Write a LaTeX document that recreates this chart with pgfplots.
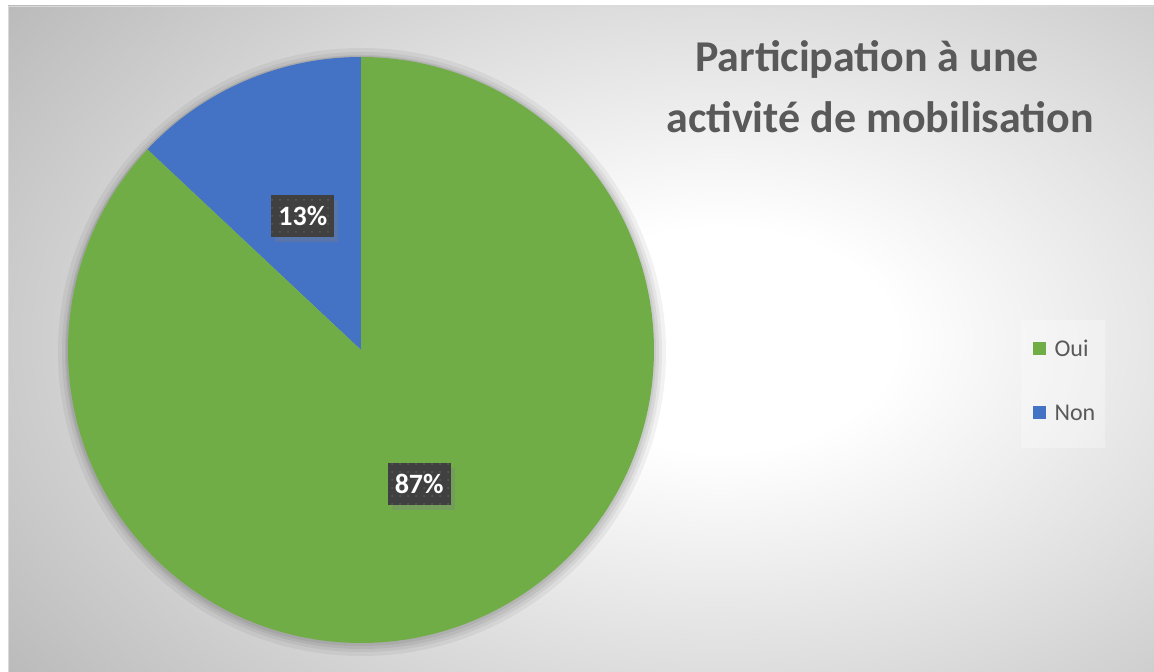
\documentclass[border=0pt]{standalone}
\usepackage{pgfplots}
\pgfplotsset{compat=1.18}
\usepackage{fontspec}
\setmainfont{Carlito}
\usetikzlibrary{shadows,patterns.meta}
\definecolor{pgreen}{HTML}{70AD47}
\definecolor{pblue}{HTML}{4472C4}
\definecolor{tgray}{HTML}{595959}
\definecolor{lbl}{HTML}{404040}
\definecolor{dotc}{HTML}{5A5A5A}
\definecolor{bggray}{HTML}{BBBBBB}
\pgfdeclareradialshading{bgshade}{\pgfpoint{0bp}{0bp}}{color(0bp)=(white); color(5bp)=(white); color(25bp)=(bggray); color(50bp)=(bggray)}
% data (percent)
\def\vOui{87}
\def\vNon{13}
\begin{document}
\begin{tikzpicture}
\pgfmathsetmacro\aNon{90+3.6*\vNon}
\pgfmathsetmacro\aOuiEnd{\aNon+3.6*\vOui}
\pgfmathsetmacro\mNon{90+1.8*\vNon}
\pgfmathsetmacro\mOui{\aNon+1.8*\vOui}
\pgfmathsetmacro\xNon{361+146.5*cos(\mNon)}
\pgfmathsetmacro\yNon{322+146.5*sin(\mNon)}
\pgfmathsetmacro\xOui{361+146.5*cos(\mOui)}
\pgfmathsetmacro\yOui{322+146.5*sin(\mOui)}
\begin{axis}[scale only axis, width=1154pt, height=672pt,
  xmin=0, xmax=1154, ymin=0, ymax=672, hide axis, clip=false]
% background
\fill[white] (axis cs:0,0) rectangle (axis cs:1154,672);
\begin{scope}
\clip (axis cs:8,-6) rectangle (axis cs:1162,666);
\shade[overlay, shading=bgshade] (axis cs:-160,-228) rectangle (axis cs:1600,892);
\end{scope}
\draw[color=black!15, line width=0.6pt] (axis cs:8,-6) -- (axis cs:8,666) -- (axis cs:1162,666);
% pie shadow
\fill[black, opacity=0.05] (axis cs:362,320) circle[radius=304pt];
\fill[black, opacity=0.05] (axis cs:362,320) circle[radius=300pt];
\fill[black, opacity=0.06] (axis cs:362,320) circle[radius=297pt];
\fill[black, opacity=0.06] (axis cs:361,321) circle[radius=295pt];
% pie slices
\addplot[fill=pblue, draw=none, domain=90:\aNon, samples=60, variable=\t]
  ({361+293*cos(\t)},{322+293*sin(\t)}) -- (axis cs:361,322) -- cycle;
\addplot[fill=pgreen, draw=none, domain=\aNon:\aOuiEnd, samples=200, variable=\t]
  ({361+293*cos(\t)},{322+293*sin(\t)}) -- (axis cs:361,322) -- cycle;
% data labels
\node[fill=lbl, text=white, font=\fontsize{28}{32}\selectfont\bfseries,
  minimum width=63pt, minimum height=42pt, inner sep=0pt,
  drop shadow={shadow xshift=4pt, shadow yshift=-5pt, opacity=0.35},
  postaction={pattern={Dots[distance=8pt, radius=1pt]}, pattern color=dotc}]
  at (axis cs:\xNon,\yNon) {13\%};
\node[fill=lbl, text=white, font=\fontsize{28}{32}\selectfont\bfseries,
  minimum width=63pt, minimum height=42pt, inner sep=0pt,
  drop shadow={shadow xshift=4pt, shadow yshift=-5pt, opacity=0.35},
  postaction={pattern={Dots[distance=8pt, radius=1pt]}, pattern color=dotc}]
  at (axis cs:\xOui,\yOui) {87\%};
% title
\node[anchor=base, text=tgray, font=\fontsize{44}{53}\selectfont\bfseries]
  at (axis cs:867,600) {Participation à une};
\node[anchor=base, text=tgray, font=\fontsize{44}{53}\selectfont\bfseries]
  at (axis cs:880,539) {activité de mobilisation};
% legend
\fill[white, opacity=0.3] (axis cs:1021,224) rectangle (axis cs:1105,352);
\fill[pgreen] (axis cs:1033,317) rectangle (axis cs:1046,330);
\fill[pblue] (axis cs:1033,253) rectangle (axis cs:1046,266);
\node[anchor=base west, text=tgray, font=\fontsize{24}{28}\selectfont]
  at (axis cs:1051,315.5) {Oui};
\node[anchor=base west, text=tgray, font=\fontsize{24}{28}\selectfont]
  at (axis cs:1051,251.5) {Non};
\end{axis}
\pgfresetboundingbox
\useasboundingbox (current axis.south west) rectangle (current axis.north east);
\end{tikzpicture}
\end{document}
